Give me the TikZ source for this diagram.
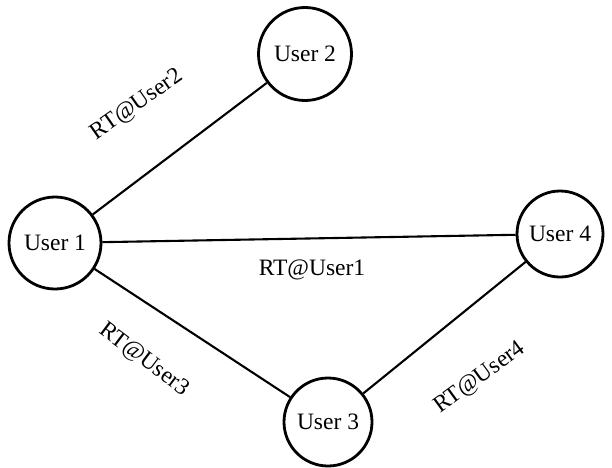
\documentclass[tikz,border=0pt]{standalone}
\usepackage{fontspec}
\setmainfont{Liberation Serif}
\usepackage{tikz}
\usetikzlibrary{positioning}

\begin{document}
\begin{tikzpicture}[x=1pt, y=1pt,
  user/.style={circle, draw=black, line width=2.8pt, minimum size=#1, inner sep=0pt, font=\fontsize{23.5}{27}\selectfont},
  link/.style={line width=2.1pt},
  tag/.style={font=\fontsize{23.5}{27}\selectfont, inner sep=0pt}]
\useasboundingbox (0,0) rectangle (612,467);
% users
\node[user=92pt] (u1) at (55,224) {User 1};
\node[user=93pt] (u2) at (305,413) {User 2};
\node[user=88pt] (u3) at (328,45) {User 3};
\node[user=86pt] (u4) at (560,233) {User 4};
%
\draw[link] (u1) -- (u2);
\draw[link] (u1) -- (u4);
\draw[link] (u1) -- (u3);
\draw[link] (u3) -- (u4);
% retweet labels
\node[tag, rotate=35] (t2) at (137,362) {RT@User2};
\node[tag] (t1) at (312,197) {RT@User1};
\node[tag, rotate=-37] (t3) at (144,107) {RT@User3};
\node[tag, rotate=36] (t4) at (480,89) {RT@User4};
\end{tikzpicture}
\end{document}
